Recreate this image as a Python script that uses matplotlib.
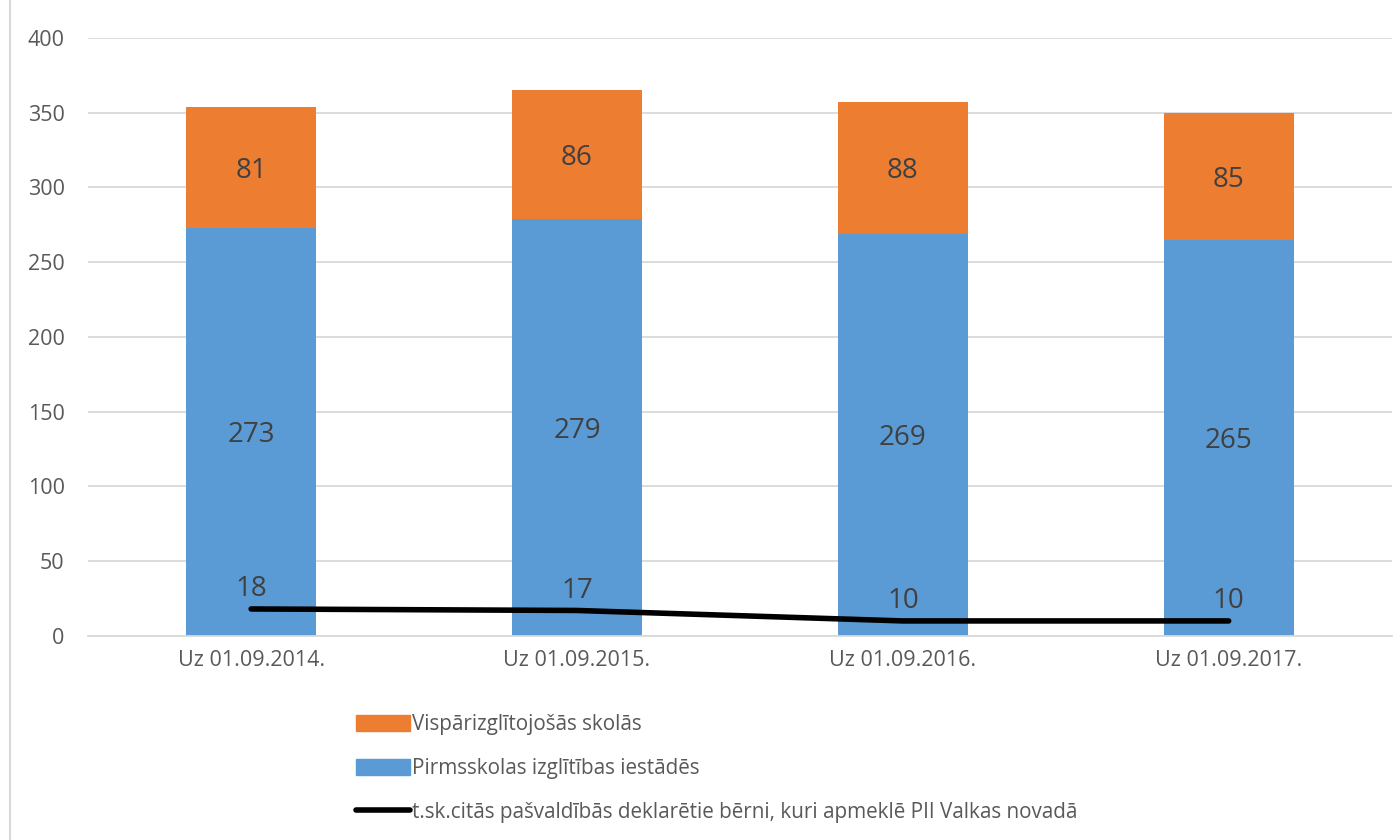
import matplotlib
matplotlib.use('Agg')
import matplotlib.pyplot as plt
from matplotlib.patches import Patch, Rectangle
from matplotlib.lines import Line2D
import numpy as np

plt.rcParams['font.family'] = ['Open Sans', 'DejaVu Sans']

################################################################################
# Data
categories = ['Uz 01.09.2014.', 'Uz 01.09.2015.', 'Uz 01.09.2016.', 'Uz 01.09.2017.']
pirmsskolas = [273, 279, 269, 265]
visparizglitojosas = [81, 86, 88, 85]
citas_pasvaldibas = [18, 17, 10, 10]

label_orange = 'Vispārizglītojošās skolās'
label_blue = 'Pirmsskolas izglītības iestādēs'
label_line = 't.sk.citās pašvaldībās deklarētie bērni, kuri apmeklē PII Valkas novadā'

orange = '#ED7D31'
blue = '#5B9BD5'
text_c = '#595959'
grid_c = '#D9D9D9'

################################################################################
# Figure
fig = plt.figure(figsize=(14, 8.4), dpi=100)
ax = fig.add_axes([0.063, 0.243, 0.931, 0.712])

x = np.arange(len(categories))
ax.bar(x, pirmsskolas, width=0.4, color=blue, zorder=2)
ax.bar(x, visparizglitojosas, width=0.4, bottom=pirmsskolas, color=orange, zorder=2)
ax.plot(x, citas_pasvaldibas, color='black', lw=4, solid_capstyle='round', zorder=3)

# data labels
for i in range(len(x)):
    ax.text(x[i], pirmsskolas[i] / 2, str(pirmsskolas[i]), ha='center', va='center_baseline',
            fontsize=20, color='#404040', zorder=4)
    ax.text(x[i], pirmsskolas[i] + visparizglitojosas[i] / 2, str(visparizglitojosas[i]),
            ha='center', va='center_baseline', fontsize=20, color='#404040', zorder=4)
    ax.annotate(str(citas_pasvaldibas[i]), (x[i], citas_pasvaldibas[i]),
                xytext=(0, 4), textcoords='offset points', ha='center', va='bottom',
                fontsize=20, color='#404040', zorder=4)

ax.set_xlim(-0.5, 3.5)
ax.set_ylim(0, 400)
ax.set_yticks(range(0, 401, 50))
ax.set_xticks(x)
ax.set_xticklabels(categories)
ax.tick_params(axis='both', length=0, labelsize=15.5, colors=text_c)
ax.tick_params(axis='x', pad=10)
ax.tick_params(axis='y', pad=17)
ax.grid(axis='y', color=grid_c, lw=1.3, zorder=0)
for s in ['top', 'right', 'left']:
    ax.spines[s].set_visible(False)
ax.spines['bottom'].set_color(grid_c)
ax.spines['bottom'].set_linewidth(1.3)

# legend
handles = [Patch(color=orange, label=label_orange),
           Patch(color=blue, label=label_blue),
           Line2D([], [], color='black', lw=4, solid_capstyle='round', label=label_line)]
fig.legend(handles=handles, loc='upper left', bbox_to_anchor=(0.241, 0.172),
           frameon=False, fontsize=14.9, labelcolor=text_c, handlelength=2.6,
           handletextpad=0.1, labelspacing=1.1, handleheight=0.8)

# chart border
fig.patches.append(Rectangle((0.007, -0.01), 1.0, 1.03, transform=fig.transFigure,
                             fill=False, edgecolor=grid_c, lw=1.5))

plt.savefig('out.png', dpi=100)
